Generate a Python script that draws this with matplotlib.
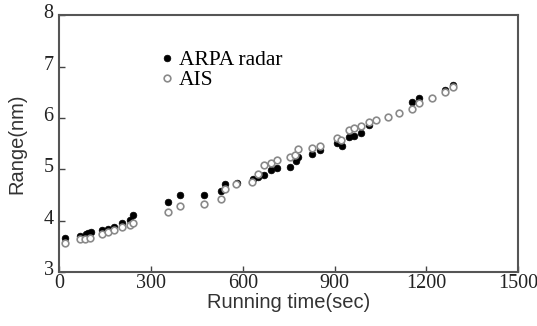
import numpy as np
import matplotlib.pyplot as plt
import matplotlib.transforms as mtransforms

# ARPA radar (filled)
arpa_t = [20, 70, 87, 96, 104, 139, 159, 181, 205, 232, 243,
          355, 395, 475, 529, 543, 580, 633, 651, 671, 693, 711,
          755, 773, 782, 826, 851, 907, 923, 946, 964, 988, 1011,
          1152, 1177, 1261, 1286]
arpa_r = [3.67, 3.70, 3.75, 3.77, 3.79, 3.82, 3.84, 3.88, 3.95, 4.02, 4.12,
          4.37, 4.50, 4.51, 4.58, 4.71, 4.74, 4.82, 4.85, 4.90, 4.99, 5.03,
          5.05, 5.17, 5.24, 5.30, 5.38, 5.51, 5.45, 5.63, 5.66, 5.71, 5.87,
          6.31, 6.40, 6.54, 6.65]

# AIS (open)
ais_t = [20, 69, 85, 101, 139, 159, 181, 205, 232, 243,
         355, 395, 475, 529, 543, 578, 631, 651, 671, 693, 711,
         755, 770, 779, 826, 851, 908, 922, 946, 965, 987, 1011,
         1036, 1073, 1112, 1152, 1177, 1218, 1261, 1286]
ais_r = [3.57, 3.65, 3.65, 3.67, 3.75, 3.78, 3.82, 3.88, 3.91, 3.95,
         4.17, 4.29, 4.32, 4.43, 4.62, 4.72, 4.75, 4.92, 5.08, 5.12, 5.19,
         5.24, 5.29, 5.40, 5.41, 5.45, 5.61, 5.57, 5.76, 5.81, 5.85, 5.92,
         5.97, 6.03, 6.09, 6.18, 6.29, 6.39, 6.50, 6.60]

fig = plt.figure(figsize=(5.37, 3.26), dpi=100)
ax = fig.add_axes([0.110, 0.165, 0.855, 0.788])

ax.plot(arpa_t, arpa_r, 'o', ms=4.8, mfc='black', mec='black', mew=0.5,
        label='ARPA radar', zorder=3)
ax.plot(ais_t, ais_r, 'o', ms=4.8, mfc='white', mec='#8a8a8a', mew=1.2,
        label='AIS', zorder=4)

ax.set_xlim(0, 1500)
ax.set_ylim(3, 8)
ax.set_xticks([0, 300, 600, 900, 1200, 1500])
ax.set_yticks([3, 4, 5, 6, 7, 8])

serif = 'Liberation Serif'
for lab in ax.get_xticklabels() + ax.get_yticklabels():
    lab.set_fontfamily(serif)
    lab.set_fontsize(14.5)
    lab.set_color('#222222')

ax.tick_params(direction='in', length=4, width=1, color='#444444')
ax.tick_params(axis='x', pad=1)
ax.tick_params(axis='y', pad=4)
# y labels sit a little above their ticks, as in the original
up = mtransforms.ScaledTranslation(0, 3 / 72, fig.dpi_scale_trans)
for lab in ax.get_yticklabels():
    lab.set_transform(lab.get_transform() + up)

for s in ax.spines.values():
    s.set_linewidth(1.5)
    s.set_color('#555555')

ax.set_xlabel('Running time(sec)', fontsize=14.5, family='Liberation Sans',
              color='#333333', labelpad=0)
ax.set_ylabel('Range(nm)', fontsize=14.5, family='Liberation Sans',
              color='#333333', labelpad=12)

ax.legend(loc='upper left', bbox_to_anchor=(0.17, 0.94), frameon=False,
          handletextpad=0.05, handlelength=1.0, labelspacing=0.0,
          prop={'family': serif, 'size': 15.5})

fig.savefig('out.png', dpi=100)
